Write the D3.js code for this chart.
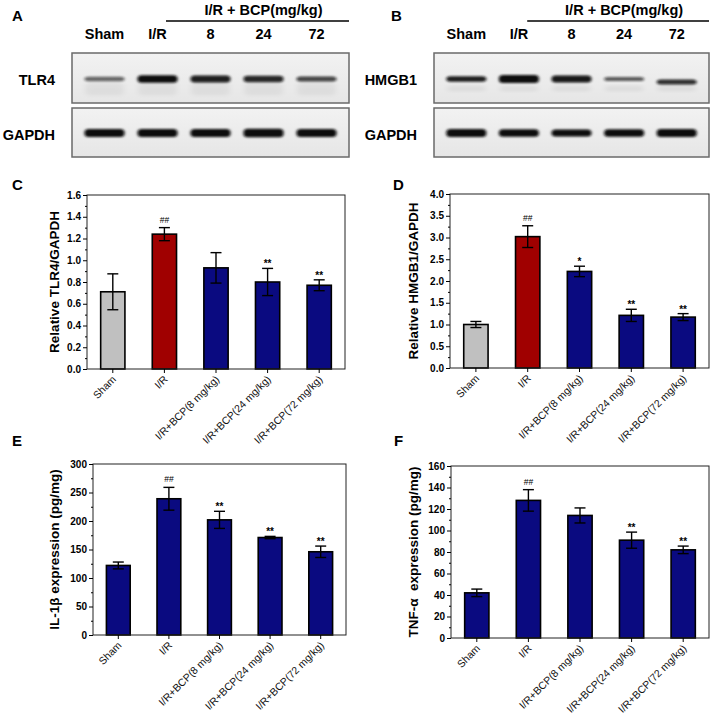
<!DOCTYPE html>
<html>
<head>
<meta charset="utf-8">
<script src="https://d3js.org/d3.v7.min.js"></script>
<style>
  body { margin: 0; background: #fff; }
  text { font-family: "Liberation Sans", Arial, sans-serif; fill: #000; }
</style>
</head>
<body>
<div id="my_dataviz"></div>
<script>
// set the dimensions of the figure
var width = 714
var height = 719

// groups and values
var groups = ["Sham", "I/R", "I/R+BCP(8 mg/kg)", "I/R+BCP(24 mg/kg)", "I/R+BCP(72 mg/kg)"]
var laneLabels = ["Sham", "I/R", "8", "24", "72"]

var tlr4Mean = [0.71, 1.24, 0.93, 0.80, 0.77]
var tlr4Err = [0.165, 0.06, 0.14, 0.125, 0.05]
var tlr4Marks = ["", "##", "", "**", "**"]
var tlr4Ticks = [0, 0.2, 0.4, 0.6, 0.8, 1.0, 1.2, 1.4, 1.6]

var hmgb1Mean = [1.00, 3.02, 2.22, 1.21, 1.17]
var hmgb1Err = [0.07, 0.25, 0.12, 0.14, 0.08]
var hmgb1Marks = ["", "##", "*", "**", "**"]
var hmgb1Ticks = [0, 0.5, 1.0, 1.5, 2.0, 2.5, 3.0, 3.5, 4.0]

var il1bMean = [122, 239, 202, 171, 146]
var il1bErr = [6, 20, 15, 2, 10]
var il1bMarks = ["", "##", "**", "**", "**"]
var il1bTicks = [0, 50, 100, 150, 200, 250, 300]

var tnfaMean = [42, 128, 114, 91, 82]
var tnfaErr = [3.5, 10, 7, 7.5, 3.5]
var tnfaMarks = ["", "##", "", "**", "**"]
var tnfaTicks = [0, 20, 40, 60, 80, 100, 120, 140, 160]

// blot band strength (0..1) and thickness in px, per lane
var tlr4Band = [0.6, 1.0, 0.92, 0.88, 0.75]
var tlr4Thick = [4.5, 7.5, 7, 6.5, 5]
var gapdhABand = [1.0, 1.0, 1.0, 1.0, 1.0]
var gapdhAThick = [8, 8, 8, 8.5, 8]
var hmgb1Band = [0.92, 1.0, 0.95, 0.65, 0.85]
var hmgb1Thick = [5.5, 8, 7, 4, 5]
var gapdhBBand = [1.0, 1.0, 1.0, 1.0, 1.0]
var gapdhBThick = [8, 7.5, 7, 7.5, 8]

var barColors = ["#c0c0c0", "#a00000", "#0a0a80", "#0a0a80", "#0a0a80"]
var navy = ["#0a0a80", "#0a0a80", "#0a0a80", "#0a0a80", "#0a0a80"]

var svg = d3.select("#my_dataviz")
    .append("svg")
    .attr("width", width)
    .attr("height", height)

svg.append("rect").attr("width", width).attr("height", height).style("fill", "#fff")

// blur filters for the blot bands
var defs = svg.append("defs")
defs.append("filter").attr("id", "blur").attr("x", "-20%").attr("y", "-100%").attr("width", "140%").attr("height", "300%")
    .append("feGaussianBlur").attr("stdDeviation", "1.4 1.0")
defs.append("filter").attr("id", "blur2").attr("x", "-20%").attr("y", "-100%").attr("width", "140%").attr("height", "300%")
    .append("feGaussianBlur").attr("stdDeviation", "3 2")
var grad = defs.append("linearGradient").attr("id", "blotbg").attr("x1", 0).attr("x2", 0).attr("y1", 0).attr("y2", 1)
grad.append("stop").attr("offset", "0%").attr("stop-color", "#f2f2f2")
grad.append("stop").attr("offset", "100%").attr("stop-color", "#e6e6e6")

// panel letters
var letters = [["A", 12, 21], ["B", 391, 21], ["C", 12, 190], ["D", 393, 190], ["E", 12, 446], ["F", 394, 446]]
svg.selectAll(".letter").data(letters).enter().append("text")
    .attr("x", function(d) { return d[1] }).attr("y", function(d) { return d[2] })
    .style("font-size", "15px").style("font-weight", "bold").text(function(d) { return d[0] })

// ---------- western blots ----------
function drawBlot(x0, x1, name, topBand, topThick, botBand, botThick, faint) {
    var lane = d3.scaleBand().domain(laneLabels).range([x0 + 6, x1 - 6])
    var g = svg.append("g")

    g.append("text").attr("x", (lane("8") + lane("72") + lane.bandwidth()) / 2).attr("y", 15)
        .attr("text-anchor", "middle").style("font-size", "14.5px").style("font-weight", "bold")
        .text("I/R + BCP(mg/kg)")
    g.append("line").attr("x1", lane("8") - 18).attr("x2", lane("72") + lane.bandwidth() + 6)
        .attr("y1", 21).attr("y2", 21).style("stroke", "#000").style("stroke-width", 1.5)

    g.selectAll(".lane").data(laneLabels).enter().append("text")
        .attr("x", function(d) { return lane(d) + lane.bandwidth() / 2 }).attr("y", 39)
        .attr("text-anchor", "middle").style("font-size", "14.5px").style("font-weight", "bold")
        .text(function(d) { return d })

    var boxes = [
        { y: 53, h: 50, label: name, bands: topBand, thick: topThick, cy: 79 },
        { y: 108, h: 49, label: "GAPDH", bands: botBand, thick: botThick, cy: 133 }
    ]
    boxes.forEach(function(b, k) {
        g.append("rect").attr("x", x0).attr("y", b.y).attr("width", x1 - x0).attr("height", b.h)
            .style("fill", "url(#blotbg)").style("stroke", "#6a6a6a").style("stroke-width", 1.5)
        g.append("text").attr("x", x0 - 17).attr("y", b.y + 32).attr("text-anchor", "end")
            .style("font-size", "14.5px").style("font-weight", "bold").text(b.label)
        // faint smear / second band under the main band
        if (k == 0) {
            g.selectAll(".faint").data(laneLabels).enter().append("rect")
                .attr("x", function(d) { return lane(d) + lane.bandwidth() / 2 - 19 })
                .attr("y", b.cy + (faint ? 8 : 4)).attr("width", 38).attr("height", faint ? 3 : 12)
                .attr("rx", 2)
                .style("fill", "#000").style("opacity", faint ? 0.1 : 0.05)
                .attr("filter", "url(#blur2)")
        }
        g.selectAll(".band" + k).data(laneLabels).enter().append("rect")
            .attr("x", function(d) { return lane(d) + lane.bandwidth() / 2 - 20 })
            .attr("y", function(d, i) { return b.cy - b.thick[i] / 2 + (faint && k == 0 && i == 4 ? 3 : 0) })
            .attr("width", 40)
            .attr("height", function(d, i) { return b.thick[i] })
            .attr("rx", 4).attr("ry", 3.5)
            .style("fill", "#0c0c0c")
            .style("opacity", function(d, i) { return b.bands[i] })
            .attr("filter", "url(#blur)")
    })
}
drawBlot(72, 349, "TLR4", tlr4Band, tlr4Thick, gapdhABand, gapdhAThick, false)
drawBlot(434, 709, "HMGB1", hmgb1Band, hmgb1Thick, gapdhBBand, gapdhBThick, true)

// ---------- bar charts ----------
function drawBars(p) {
    var g = svg.append("g")
    var x = d3.scaleBand().domain(groups).range([p.left, p.right]).paddingInner(0.53).paddingOuter(0.265)
    var y = d3.scaleLinear().domain([0, p.max]).range([p.bottom, p.top])

    // bars
    g.selectAll(".bar").data(p.mean).enter().append("rect")
        .attr("x", function(d, i) { return x(groups[i]) })
        .attr("y", function(d) { return y(d) })
        .attr("width", x.bandwidth())
        .attr("height", function(d) { return y(0) - y(d) })
        .style("fill", function(d, i) { return p.colors[i] })
        .style("stroke", "#000").style("stroke-width", 1.6)

    // error bars
    var cx = function(i) { return x(groups[i]) + x.bandwidth() / 2 }
    p.mean.forEach(function(m, i) {
        var e = p.err[i]
        g.append("line").attr("x1", cx(i)).attr("x2", cx(i)).attr("y1", y(m - e)).attr("y2", y(m + e))
            .style("stroke", "#000").style("stroke-width", 1.4)
        g.append("line").attr("x1", cx(i) - 5.5).attr("x2", cx(i) + 5.5).attr("y1", y(m + e)).attr("y2", y(m + e))
            .style("stroke", "#000").style("stroke-width", 1.4)
        g.append("line").attr("x1", cx(i) - 5.5).attr("x2", cx(i) + 5.5).attr("y1", y(m - e)).attr("y2", y(m - e))
            .style("stroke", "#000").style("stroke-width", 1.4)
        if (p.marks[i] != "") {
            var star = p.marks[i].indexOf("*") >= 0
            g.append("text").attr("x", cx(i)).attr("y", y(m + e) - (star ? 1 : 5))
                .attr("text-anchor", "middle")
                .style("font-size", star ? "10px" : "8.5px").style("font-weight", star ? "bold" : "normal")
                .text(p.marks[i])
        }
    })

    // frame
    g.append("rect").attr("x", p.left).attr("y", p.top).attr("width", p.right - p.left).attr("height", p.bottom - p.top)
        .style("fill", "none").style("stroke", "#222").style("stroke-width", 1)

    // y axis with minor ticks
    var step = p.ticks[1] - p.ticks[0]
    var minor = p.ticks.slice(0, -1).map(function(t) { return t + step / 2 })
    g.append("g").attr("transform", "translate(" + p.left + ",0)")
        .call(d3.axisLeft(y).tickValues(minor).tickSize(2).tickFormat(""))
        .call(function(a) { a.select(".domain").remove() })
    var yAxis = g.append("g").attr("transform", "translate(" + p.left + ",0)")
        .call(d3.axisLeft(y).tickValues(p.ticks).tickSize(4).tickPadding(2).tickFormat(p.fmt))
    yAxis.select(".domain").remove()
    yAxis.selectAll("text").style("font-size", "10px").style("font-weight", "bold")
        .style("font-family", "'Liberation Sans', Arial, sans-serif")

    // x axis
    var xAxis = g.append("g").attr("transform", "translate(0," + p.bottom + ")")
        .call(d3.axisBottom(x).tickSize(4).tickFormat(""))
    xAxis.select(".domain").remove()
    g.selectAll(".xlab").data(groups).enter().append("text")
        .attr("transform", function(d) {
            return "translate(" + (x(d) + x.bandwidth() / 2 + 4) + "," + (p.bottom + 11) + ") rotate(-45)"
        })
        .attr("text-anchor", "end")
        .style("font-size", "10.5px")
        .style("fill", "#111")
        .text(function(d) { return d })

    // y label
    g.append("text")
        .attr("transform", "translate(" + p.labelX + "," + ((p.top + p.bottom) / 2) + ") rotate(-90)")
        .attr("text-anchor", "middle")
        .attr("xml:space", "preserve")
        .style("font-size", "13.5px").style("font-weight", "bold")
        .text(p.label)
}

drawBars({ left: 87, right: 345, top: 195, bottom: 369, max: 1.6, mean: tlr4Mean, err: tlr4Err, marks: tlr4Marks,
    ticks: tlr4Ticks, fmt: d3.format(".1f"), colors: barColors, label: "Relative TLR4/GAPDH", labelX: 59 })
drawBars({ left: 450, right: 709, top: 194, bottom: 368, max: 4.0, mean: hmgb1Mean, err: hmgb1Err, marks: hmgb1Marks,
    ticks: hmgb1Ticks, fmt: d3.format(".1f"), colors: barColors, label: "Relative HMGB1/GAPDH", labelX: 418 })
drawBars({ left: 93, right: 346, top: 464, bottom: 635, max: 300, mean: il1bMean, err: il1bErr, marks: il1bMarks,
    ticks: il1bTicks, fmt: d3.format("d"), colors: navy, label: "IL-1β expression (pg/mg)", labelX: 59 })
drawBars({ left: 451, right: 709, top: 466, bottom: 638, max: 160, mean: tnfaMean, err: tnfaErr, marks: tnfaMarks,
    ticks: tnfaTicks, fmt: d3.format("d"), colors: navy, label: "TNF-α  expression (pg/mg)", labelX: 418 })
</script>
</body>
</html>
